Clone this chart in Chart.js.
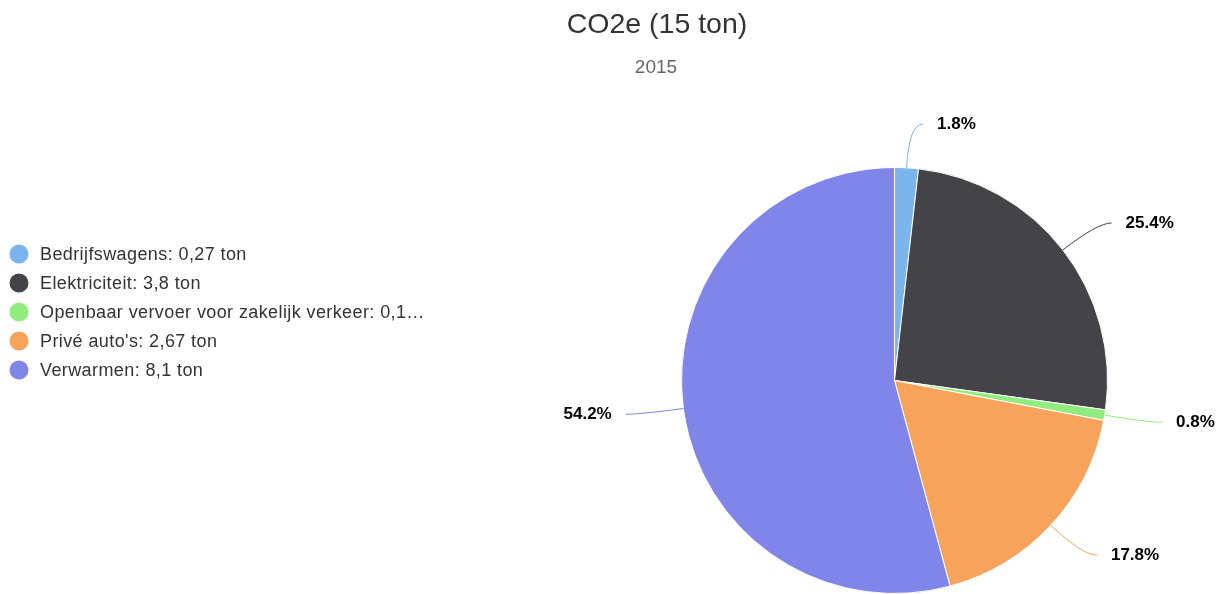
<!DOCTYPE html>
<html>
<head>
<meta charset="utf-8">
<script src="https://cdn.jsdelivr.net/npm/chart.js@4"></script>
<style>
    body { margin: 0; background: #fff; overflow: hidden; }
    .chart-box { width: 1226px; height: 594px; position: relative; }
</style>
</head>
<body>
<div class="chart-box"><canvas id="co2Chart"></canvas></div>
<script>
// Data
const categories = ['Bedrijfswagens', 'Elektriciteit', 'Openbaar vervoer voor zakelijk verkeer', "Privé auto's", 'Verwarmen'];
const tonLabels = ['0,27 ton', '3,8 ton', '0,12 ton', '2,67 ton', '8,1 ton'];
const shares = [1.8, 25.4, 0.8, 17.8, 54.2];
const colors = ['#7cb5ec', '#434348', '#90ed7d', '#f7a35c', '#8085e9'];

const titleText = 'CO2e (15 ton)';
const subtitleText = '2015';
const fontFamily = '"Liberation Sans", Arial, Helvetica, sans-serif';

// Title, subtitle and legend on the left
const decorPlugin = {
    id: 'decor',
    afterDraw(chart) {
        const c = chart.ctx;
        c.save();
        c.textAlign = 'center';
        c.textBaseline = 'middle';
        c.fillStyle = '#333333';
        c.font = '28.5px ' + fontFamily;
        c.fillText(titleText, 657, 25);
        c.fillStyle = '#666666';
        c.font = '19px ' + fontFamily;
        c.fillText(subtitleText, 656, 68);

        c.textAlign = 'left';
        c.font = '18px ' + fontFamily;
        c.letterSpacing = '0.4px';
        const maxW = 390;
        categories.forEach((name, i) => {
            const y = 254 + i * 29;
            c.fillStyle = colors[i];
            c.beginPath();
            c.arc(19, y, 9.5, 0, Math.PI * 2);
            c.fill();
            let txt = name + ': ' + tonLabels[i];
            if (c.measureText(txt).width > maxW) {
                while (txt.length && c.measureText(txt + '…').width > maxW) txt = txt.slice(0, -1);
                txt = txt + '…';
            }
            c.fillStyle = '#333333';
            c.fillText(txt, 40, y + 1);
        });
        c.restore();
    }
};

// Percentage labels with soft connectors
const pieLabels = {
    id: 'pieLabels',
    afterDatasetsDraw(chart) {
        const c = chart.ctx;
        const arcs = chart.getDatasetMeta(0).data;
        c.save();
        c.font = 'bold 17px ' + fontFamily;
        c.textBaseline = 'middle';
        arcs.forEach((arc, i) => {
            const mid = (arc.startAngle + arc.endAngle) / 2;
            const r = arc.outerRadius;
            const dx = Math.cos(mid), dy = Math.sin(mid);
            const ex = arc.x + dx * r, ey = arc.y + dy * r;
            const lr = r + 44;
            const ax = arc.x + dx * lr, ay = arc.y + dy * lr;
            const side = dx >= 0 ? 1 : -1;
            c.strokeStyle = colors[i];
            c.lineWidth = 1;
            c.beginPath();
            c.moveTo(ex, ey);
            c.quadraticCurveTo(ax, ay, ax + side * 14, ay);
            c.stroke();
            c.fillStyle = '#000000';
            c.textAlign = side > 0 ? 'left' : 'right';
            c.fillText(shares[i].toFixed(1) + '%', ax + side * 28, ay);
        });
        c.restore();
    }
};

new Chart(document.getElementById('co2Chart'), {
    type: 'pie',
    data: {
        labels: categories,
        datasets: [{
            data: shares,
            backgroundColor: colors,
            borderColor: '#ffffff',
            borderWidth: 1
        }]
    },
    options: {
        responsive: true,
        maintainAspectRatio: false,
        animation: false,
        layout: {
            padding: { top: 167, bottom: 0, left: 681, right: 118 }
        },
        plugins: {
            legend: { display: false },
            title: { display: false },
            tooltip: { enabled: false }
        }
    },
    plugins: [decorPlugin, pieLabels]
});
</script>
</body>
</html>
